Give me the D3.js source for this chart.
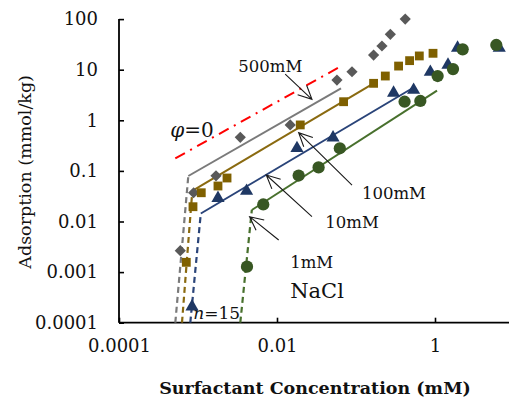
<!DOCTYPE html>
<html>
<head>
<meta charset="utf-8">
<script src="https://cdn.jsdelivr.net/npm/d3@7"></script>
<style>
  html, body { margin: 0; padding: 0; background: #fff; }
  svg { display: block; }
  text { font-family: "DejaVu Serif", "Liberation Serif", serif; fill: #111; }
</style>
</head>
<body>
<svg id="chart" width="509" height="399"></svg>
<script>
// ---------- data ----------
const xTickValues = [0.0001, 0.01, 1];
const xTickLabels = ["0.0001", "0.01", "1"];
const yTickValues = [0.0001, 0.001, 0.01, 0.1, 1, 10, 100];
const yTickLabels = ["0.0001", "0.001", "0.01", "0.1", "1", "10", "100"];

// 500 mM NaCl (grey diamonds)
const conc500 = [0.000597, 0.00088, 0.00169, 0.00343, 0.0147, 0.0574, 0.089, 0.167, 0.213, 0.272, 0.42];
const ads500  = [0.00265, 0.037, 0.080, 0.46, 0.81, 6.25, 9.1, 19.5, 29.4, 50, 100];
// 100 mM NaCl (olive squares)
const conc100 = [0.000711, 0.000864, 0.0011, 0.00179, 0.00233, 0.0197, 0.0697, 0.167, 0.235, 0.346, 0.477, 0.633, 0.944];
const ads100  = [0.00156, 0.0196, 0.037, 0.0503, 0.0724, 0.81, 2.33, 5.38, 7.5, 11.8, 15.1, 18.7, 21.1];
// 10 mM NaCl (blue triangles)
const conc10 = [0.00084, 0.00179, 0.00412, 0.0179, 0.0512, 0.299, 0.536, 0.873, 1.46, 1.93, 6.5];
const ads10  = [0.000207, 0.029, 0.040, 0.28, 0.453, 3.47, 3.97, 9.0, 12.4, 26.9, 26.9];
// 1 mM NaCl (green circles)
const conc1 = [0.00417, 0.0067, 0.0188, 0.0336, 0.0624, 0.412, 0.652, 1.08, 1.69, 2.24, 5.97];
const ads1  = [0.00128, 0.0217, 0.081, 0.117, 0.28, 2.33, 2.41, 7.5, 10.3, 25.3, 30.8];

// model curves: first segment dashed (steep part), remaining segment solid
const fit500Conc = [0.000516, 0.000754, 0.0646];
const fit500Ads  = [0.0001, 0.0793, 4.29];
const fit100Conc = [0.000627, 0.000847, 0.167];
const fit100Ads  = [0.0001, 0.0401, 5.38];
const fit10Conc  = [0.000799, 0.001085, 0.536];
const fit10Ads   = [0.0001, 0.0144, 4.45];
const fit1Conc   = [0.00343, 0.0048, 1.06];
const fit1Ads    = [0.0001, 0.0169, 3.85];
// phi = 0 curve
const phi0Conc = [0.000516, 0.0633];
const phi0Ads  = [0.177, 11.5];

// annotations (data coordinates)
const labelTexts = ["500mM", "100mM", "10mM", "1mM"];
const labelConc  = [0.00324, 0.119, 0.0409, 0.0147];
const labelAds   = [9.0, 0.0279, 0.00745, 0.0012];
const arrowFromConc = [0.0127, 0.089, 0.0277, 0.0105];
const arrowFromAds  = [8.2, 0.0526, 0.01245, 0.0043];
const arrowToConc   = [0.0277, 0.0188, 0.00732, 0.0045];
const arrowToAds    = [2.60, 0.569, 0.083, 0.01245];

// ---------- chart ----------
const svg = d3.select("#chart");
const x = d3.scaleLog().domain([1e-4, 10]).range([119, 119 + 5 * 79]);
const y = d3.scaleLog().domain([1e-4, 100]).range([322.7, 19.1]);

const colors = {
  c500: "#595959", c100: "#7f6000", c10: "#1f3864", c1: "#385723",
  l500: "#7a7a7a", l100: "#8a6a10", l10: "#2a4479", l1: "#48702d"
};

// axes
const yAxis = d3.axisLeft(y).tickValues(yTickValues)
  .tickFormat((d, i) => yTickLabels[i]).tickSize(-5).tickPadding(21);
const xAxis = d3.axisBottom(x).tickValues(xTickValues)
  .tickFormat((d, i) => xTickLabels[i]).tickSize(-5).tickPadding(17);

const gy = svg.append("g").attr("transform", `translate(${x(1e-4)},0)`).call(yAxis);
const gx = svg.append("g").attr("transform", `translate(0,${y(1e-4)})`).call(xAxis);
[gx, gy].forEach(g => {
  g.select(".domain").attr("stroke", "#000").attr("stroke-width", 1.8);
  g.selectAll(".tick line").attr("stroke", "#000").attr("stroke-width", 1.6);
  g.selectAll(".tick text").attr("font-family", "DejaVu Serif").attr("font-size", 18).attr("fill", "#222");
});
gy.select(".domain").attr("d", `M0,${y(100)}V${y(1e-4)}`);
gx.select(".domain").attr("d", `M${x(1e-4)},0H509`);

// axis titles
svg.append("text")
  .attr("transform", `translate(31,${(y(100) + y(1e-4)) / 2 + 1}) rotate(-90)`)
  .attr("text-anchor", "middle").attr("font-size", 17.5).attr("fill", "#222")
  .text("Adsorption (mmol/kg)");
svg.append("text")
  .attr("x", 315).attr("y", 394).attr("text-anchor", "middle")
  .attr("font-size", 17.5).attr("font-weight", "bold").attr("fill", "#222")
  .text("Surfactant Concentration (mM)");

const line = d3.line().x(d => x(d[0])).y(d => y(d[1]));

// phi=0 curve
svg.append("path")
  .attr("d", line(d3.zip(phi0Conc, phi0Ads)))
  .attr("fill", "none").attr("stroke", "#ff0000").attr("stroke-width", 2)
  .attr("stroke-dasharray", "11,6,2,6");

// model curves
const fits = [
  [fit500Conc, fit500Ads, colors.l500],
  [fit100Conc, fit100Ads, colors.l100],
  [fit10Conc, fit10Ads, colors.l10],
  [fit1Conc, fit1Ads, colors.l1]
];
fits.forEach(([cx, cy, col]) => {
  const pts = d3.zip(cx, cy);
  svg.append("path").attr("d", line(pts.slice(0, 2)))
    .attr("fill", "none").attr("stroke", col).attr("stroke-width", 2.2)
    .attr("stroke-dasharray", "6,4");
  svg.append("path").attr("d", line(pts.slice(1)))
    .attr("fill", "none").attr("stroke", col).attr("stroke-width", 2);
});

// annotation texts
svg.append("text").attr("x", x(0.000446)).attr("y", y(0.468))
  .attr("font-size", 20).attr("fill", "#111")
  .html('<tspan font-style="italic">φ</tspan>=0');
labelTexts.forEach((t, i) => {
  svg.append("text").attr("x", x(labelConc[i])).attr("y", y(labelAds[i]))
    .attr("font-size", 16.5).text(t);
});
svg.append("text").attr("x", x(0.0147)).attr("y", y(0.000308))
  .attr("font-size", 21).text("NaCl");
svg.append("text").attr("x", x(0.000872)).attr("y", y(0.000118))
  .attr("font-size", 17).html('<tspan font-style="italic">n</tspan>=15');

// arrows
labelTexts.forEach((t, i) => {
  const x0 = x(arrowFromConc[i]), y0 = y(arrowFromAds[i]);
  const x1 = x(arrowToConc[i]), y1 = y(arrowToAds[i]);
  const a = Math.atan2(y0 - y1, x0 - x1);
  const L = 15, da = 0.45;
  const p = d3.path();
  p.moveTo(x0, y0); p.lineTo(x1, y1);
  p.moveTo(x1 + L * Math.cos(a + da), y1 + L * Math.sin(a + da));
  p.lineTo(x1, y1);
  p.lineTo(x1 + L * Math.cos(a - da), y1 + L * Math.sin(a - da));
  svg.append("path").attr("d", p.toString())
    .attr("fill", "none").attr("stroke", "#1a1a1a").attr("stroke-width", 1.1);
});

// markers
const series = [
  [conc500, ads500, d3.symbolDiamond2, 80, colors.c500],
  [conc100, ads100, d3.symbolSquare, 78, colors.c100],
  [conc10, ads10, d3.symbolTriangle, 75, colors.c10],
  [conc1, ads1, d3.symbolCircle, 118, colors.c1]
];
series.forEach(([cx, cy, sym, size, col]) => {
  svg.append("g").selectAll("path").data(d3.zip(cx, cy)).join("path")
    .attr("transform", d => `translate(${x(d[0])},${y(d[1])})`)
    .attr("d", d3.symbol().type(sym).size(size))
    .attr("fill", col);
});
</script>
</body>
</html>
